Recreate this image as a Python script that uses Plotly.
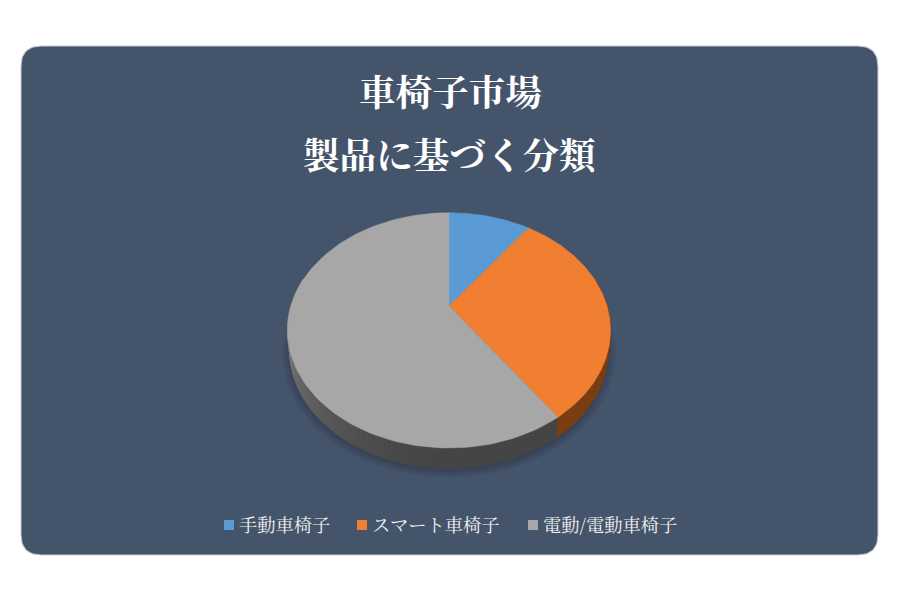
import numpy as np
import plotly.graph_objects as go

title_lines = ['車椅子市場', '製品に基づく分類']
categories = ['手動車椅子', 'スマート車椅子', '電動/電動車椅子']
shares = [10, 30.3, 59.7]

colors = ['#5B9BD5', '#F17F31', '#A7A7A7']
wall_light = ['#3a5f80', '#8A4712', '#8A8A8A']
wall_dark = ['#3a5f80', '#7A3E10', '#454545']
legend_x = [229, 362, 533]
legend_y = 525

# pie seen in perspective: apex is above the centre of the ellipse
apex_x, apex_y = 449, 306
scale_x, scale_y = 158, 112.6
persp = 0.207
depth = 20
shrink = 0.985  # lower rim is a little narrower than the top one


def project(theta, drop=0.0, narrow=1.0):
    w = 1 + persp * np.cos(theta)
    x = apex_x + narrow * scale_x * np.sin(theta) / w
    y = apex_y - scale_y * np.cos(theta) / w + drop
    return x, y


edges = np.cumsum([0] + shares) / sum(shares) * 2 * np.pi

fig = go.Figure()

# soft shadow under the pie
circle = np.linspace(0, 2 * np.pi, 121)
cx, cy = project(circle, depth, shrink)
for grow in [1.05, 1.04, 1.03, 1.02, 1.01, 1.0]:
    fig.add_trace(go.Scatter(
        x=apex_x + (cx - apex_x) * grow,
        y=cy.mean() + (cy - cy.mean()) * grow + 3,
        mode='lines', fill='toself', fillcolor='rgba(20,25,35,0.045)',
        line=dict(width=0), hoverinfo='skip', showlegend=False))


def mix(c1, c2, t):
    a = [int(c1[i:i + 2], 16) for i in (1, 3, 5)]
    b = [int(c2[i:i + 2], 16) for i in (1, 3, 5)]
    return 'rgb(%d,%d,%d)' % tuple(a[i] + (b[i] - a[i]) * t for i in range(3))


# side wall, one strip per few degrees so the shade can change
for i in range(len(shares)):
    start = max(edges[i], np.pi * 0.42)
    stop = min(edges[i + 1], np.pi * 1.58)
    if stop <= start:
        continue
    steps = np.linspace(start, stop, int((stop - start) / 0.03) + 2)
    for a0, a1 in zip(steps[:-1], steps[1:]):
        mid = (a0 + a1) / 2
        t = min(abs(mid - np.pi) / (np.pi * 0.5), 1)
        col = mix(wall_dark[i], wall_light[i], t ** 1.6 if mid > np.pi else 0)
        arc = np.linspace(a0, a1, 4)
        xt, yt = project(arc)
        xb, yb = project(arc[::-1], depth, shrink)
        fig.add_trace(go.Scatter(
            x=np.r_[xt, xb], y=np.r_[yt, yb],
            mode='lines', fill='toself', fillcolor=col,
            line=dict(color=col, width=1.2), hoverinfo='skip', showlegend=False))

# top face
for i, name in enumerate(categories):
    arc = np.linspace(edges[i], edges[i + 1], 120)
    ax, ay = project(arc)
    fig.add_trace(go.Scatter(
        x=np.r_[apex_x, ax, apex_x], y=np.r_[apex_y, ay, apex_y],
        mode='lines', fill='toself', fillcolor=colors[i],
        line=dict(color=colors[i], width=0.5), name=name, showlegend=False))

# legend drawn as squares with text so the gaps match
for i, name in enumerate(categories):
    fig.add_trace(go.Scatter(
        x=[legend_x[i]], y=[legend_y], mode='markers',
        marker=dict(symbol='square', size=10, color=colors[i]),
        hoverinfo='skip', showlegend=False))
    fig.add_annotation(
        x=legend_x[i] + 8, y=legend_y - 1.5, text=name, showarrow=False,
        xanchor='left', font=dict(size=18.3, color='#F0F0F0'))

for line, y in zip(title_lines, [90, 153]):
    fig.add_annotation(
        x=450, y=y, text='<b>' + line + '</b>', showarrow=False,
        font=dict(size=36.6, color='white'))

fig.add_shape(
    type='path', layer='below',
    path='M 41 46 L 858 46 Q 878 46 878 66 L 878 535 Q 878 555 858 555 '
         'L 41 555 Q 21 555 21 535 L 21 66 Q 21 46 41 46 Z',
    fillcolor='#44546A', line=dict(color='#C8CDD5', width=1))

fig.update_layout(
    width=900, height=599,
    margin=dict(l=0, r=0, t=0, b=0),
    paper_bgcolor='white', plot_bgcolor='white',
    font=dict(family='"Noto Serif CJK JP", "Noto Sans CJK JP", serif'),
    showlegend=False,
    xaxis=dict(range=[0, 900], visible=False),
    yaxis=dict(range=[599, 0], visible=False))

fig.write_html('out.html', config=dict(displayModeBar=False),
               post_script='document.body.style.margin = 0;')
